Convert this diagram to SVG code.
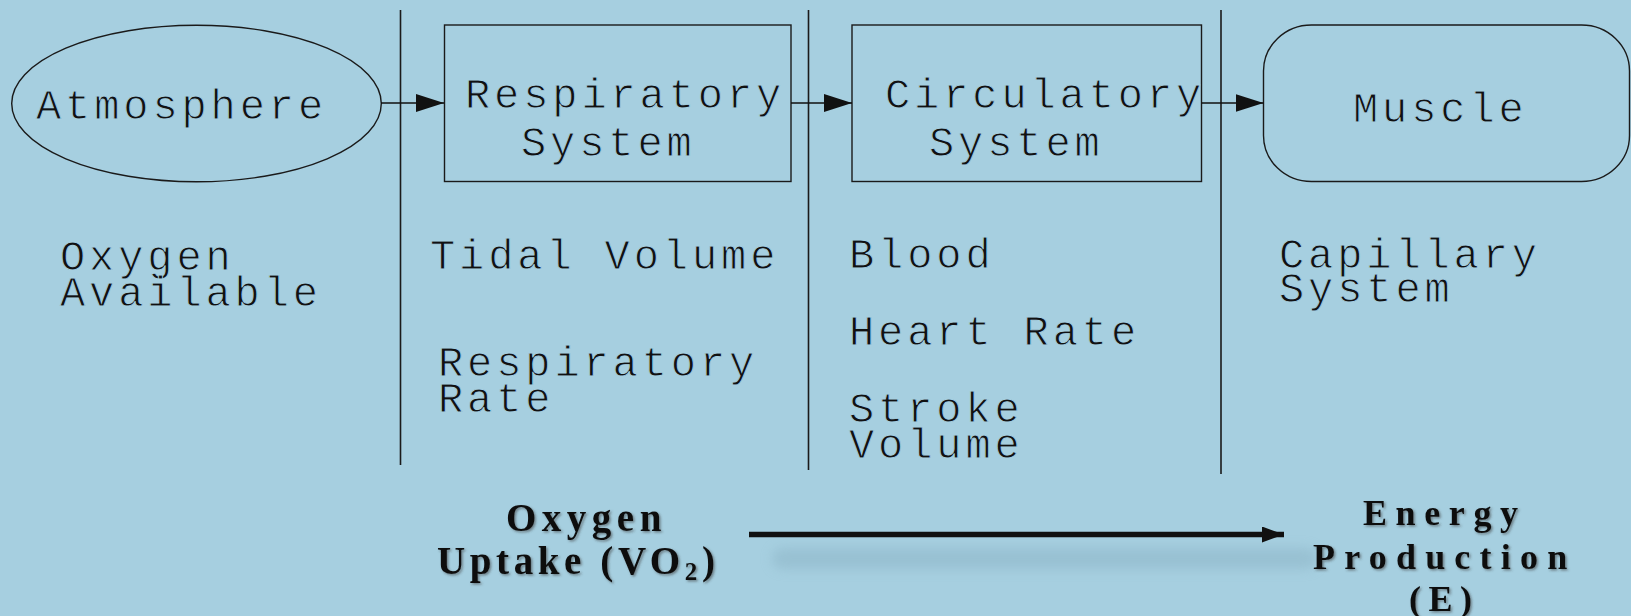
<svg xmlns="http://www.w3.org/2000/svg" width="1631" height="616" viewBox="0 0 1631 616">
  <style>
    .bg { fill: #a6cfe0; }
    .shape { fill: none; stroke: #1a1a1a; stroke-width: 1.4; }
    .divider { stroke: #1a1a1a; stroke-width: 1.6; }
    .link { stroke: #111; stroke-width: 1.4; fill: none; }
    .lbl { font-family: "Liberation Mono", "DejaVu Sans Mono", monospace; font-size: 42px; letter-spacing: 3.9px; fill: #111; stroke: #a6cfe0; stroke-width: 0.9px; }
    .bold { font-family: "Liberation Serif", "DejaVu Serif", serif; font-weight: bold; fill: #111; filter: url(#txtShadow); }
  </style>
  <defs>
    <marker id="head" viewBox="0 0 28 18" refX="28" refY="9" markerWidth="28" markerHeight="18" markerUnits="userSpaceOnUse" orient="auto">
      <path d="M0,0 L28,9 L0,18 Z" fill="#111"/>
    </marker>
    <marker id="headBig" viewBox="0 0 22 16" refX="22" refY="8" markerWidth="22" markerHeight="16" markerUnits="userSpaceOnUse" orient="auto">
      <path d="M0,0 L22,8 L0,16 Z" fill="#111"/>
    </marker>
    <filter id="txtShadow" x="-10%" y="-20%" width="120%" height="150%">
      <feDropShadow dx="1.5" dy="1.5" stdDeviation="1" flood-color="#3a3a3a" flood-opacity="0.55"/>
    </filter>
    <filter id="soft" x="-10%" y="-100%" width="120%" height="300%">
      <feGaussianBlur stdDeviation="6"/>
    </filter>
  </defs>

  <rect class="bg" x="0" y="0" width="1631" height="616"/>

  <!-- stage dividers -->
  <g id="dividers">
    <line class="divider" x1="400.5" y1="10" x2="400.5" y2="465"/>
    <line class="divider" x1="808.5" y1="10" x2="808.5" y2="470"/>
    <line class="divider" x1="1221" y1="10" x2="1221" y2="474"/>
  </g>

  <g id="atmosphere">
    <ellipse class="shape" cx="196.5" cy="103.5" rx="184.8" ry="78.3"/>
    <text class="lbl" x="36" y="119">Atmosphere</text>
  </g>

  <g id="respiratory">
    <rect class="shape" x="444.5" y="25" width="346.5" height="156.5"/>
    <text class="lbl" x="465" y="107.5">Respiratory</text>
    <text class="lbl" x="521" y="155.7">System</text>
  </g>

  <g id="circulatory">
    <rect class="shape" x="852" y="25" width="349.5" height="156.5"/>
    <text class="lbl" x="885" y="107.5">Circulatory</text>
    <text class="lbl" x="929" y="155.7">System</text>
  </g>

  <g id="muscle">
    <rect class="shape" x="1263.5" y="25" width="366" height="156.5" rx="48" ry="46"/>
    <text class="lbl" x="1353" y="122">Muscle</text>
  </g>

  <g id="connectors">
    <line class="link" x1="381" y1="103" x2="444" y2="103" marker-end="url(#head)"/>
    <line class="link" x1="791" y1="103" x2="852" y2="103" marker-end="url(#head)"/>
    <line class="link" x1="1201.5" y1="103" x2="1263.5" y2="103" marker-end="url(#head)"/>
    <!-- soft shadow under the uptake arrow -->
    <rect x="772" y="548" width="545" height="21" rx="10" fill="#8fb7c9" opacity="0.6" filter="url(#soft)"/>
    <line x1="749" y1="534.5" x2="1284" y2="534.5" stroke="#111" stroke-width="5.5" marker-end="url(#headBig)"/>
  </g>

  <!-- factors under each stage -->
  <g id="factor-atmosphere">
    <text class="lbl" x="60" y="269.5">Oxygen</text>
    <text class="lbl" x="60" y="305.5">Available</text>
  </g>
  <g id="factor-respiratory">
    <text class="lbl" x="430" y="269">Tidal Volume</text>
    <text class="lbl" x="438" y="376">Respiratory</text>
    <text class="lbl" x="438" y="412">Rate</text>
  </g>
  <g id="factor-circulatory">
    <text class="lbl" x="849" y="267.5">Blood</text>
    <text class="lbl" x="849" y="344.5">Heart Rate</text>
    <text class="lbl" x="849" y="422">Stroke</text>
    <text class="lbl" x="849" y="458">Volume</text>
  </g>
  <g id="factor-muscle">
    <text class="lbl" x="1279" y="267.5">Capillary</text>
    <text class="lbl" x="1279" y="302">System</text>
  </g>

  <g id="oxygen-uptake">
    <text class="bold" x="506" y="530.5" font-size="39" letter-spacing="5.5">Oxygen</text>
    <text class="bold" x="437" y="573.5" font-size="39" letter-spacing="4.6">Uptake (VO<tspan font-size="25" dy="6">2</tspan><tspan dy="-6">)</tspan></text>
  </g>

  <g id="energy-production">
    <text class="bold" x="1363" y="524.5" font-size="36" letter-spacing="8.6">Energy</text>
    <text class="bold" x="1313" y="568.5" font-size="36" letter-spacing="9.2">Production</text>
    <text class="bold" x="1409" y="610.5" font-size="36" letter-spacing="7.5">(E)</text>
  </g>
</svg>
